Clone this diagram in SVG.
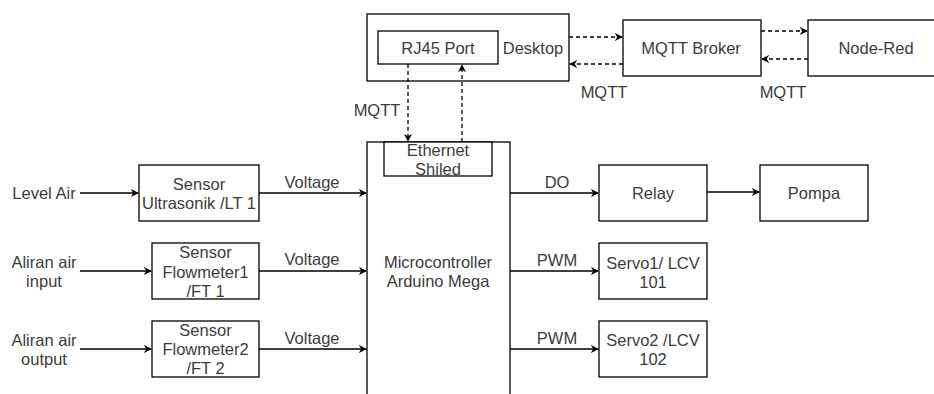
<svg xmlns="http://www.w3.org/2000/svg" width="934" height="394" viewBox="0 0 934 394">
<defs>
<style>
.box{fill:#fff;stroke:#000;stroke-width:1.3}
.ln{fill:none;stroke:#000;stroke-width:1.3}
.dash{stroke-dasharray:4 3}
text{font-family:"Liberation Sans",Arial,sans-serif;font-size:16.5px;fill:#3c3c3c;text-anchor:middle}
</style>
<marker id="ah" viewBox="0 0 10 10" refX="9" refY="5" markerWidth="8" markerHeight="8" markerUnits="userSpaceOnUse" orient="auto">
<path d="M0,0 L10,5 L0,10 L3,5 z" fill="#000"/>
</marker>
</defs>
<rect width="934" height="394" fill="#fff"/>

<g id="desktop">
<rect class="box" x="367" y="14" width="202" height="67"/>
<text x="533" y="54">Desktop</text>
</g>
<g id="rj45">
<rect class="box" x="378" y="31" width="120" height="33"/>
<text x="438" y="54">RJ45 Port</text>
</g>
<g id="broker">
<rect class="box" x="623" y="20" width="138" height="56"/>
<text x="691" y="54">MQTT Broker</text>
</g>
<g id="nodered">
<rect class="box" x="808" y="20" width="140" height="56"/>
<text x="876" y="54">Node-Red</text>
</g>

<g id="micro">
<rect class="box" x="367" y="142" width="143" height="270"/>
<text x="438" y="268">Microcontroller</text>
<text x="438" y="287">Arduino Mega</text>
</g>
<g id="ethernet">
<rect class="box" x="384" y="142" width="108" height="34"/>
<text x="438" y="156">Ethernet</text>
<text x="438" y="175">Shiled</text>
</g>

<g id="in1"><text x="44" y="199">Level Air</text></g>
<g id="in2"><text x="44" y="268">Aliran air</text><text x="44" y="287">input</text></g>
<g id="in3"><text x="44" y="346">Aliran air</text><text x="44" y="365">output</text></g>

<g id="ultrasonik">
<rect class="box" x="139" y="165" width="120" height="56"/>
<text x="199" y="190">Sensor</text>
<text x="199" y="209">Ultrasonik /LT 1</text>
</g>
<g id="flow1">
<rect class="box" x="152" y="243" width="107" height="56"/>
<text x="205.5" y="258">Sensor</text>
<text x="205.5" y="278">Flowmeter1</text>
<text x="205.5" y="297">/FT 1</text>
</g>
<g id="flow2">
<rect class="box" x="152" y="321" width="107" height="56"/>
<text x="205.5" y="336">Sensor</text>
<text x="205.5" y="355">Flowmeter2</text>
<text x="205.5" y="374">/FT 2</text>
</g>

<g id="relay">
<rect class="box" x="599" y="165" width="108" height="56"/>
<text x="653" y="199">Relay</text>
</g>
<g id="pompa">
<rect class="box" x="760" y="165" width="108" height="56"/>
<text x="814" y="199">Pompa</text>
</g>
<g id="servo1">
<rect class="box" x="599" y="243" width="108" height="56"/>
<text x="653" y="269">Servo1/ LCV</text>
<text x="653" y="288">101</text>
</g>
<g id="servo2">
<rect class="box" x="599" y="321" width="108" height="56"/>
<text x="653" y="346">Servo2 /LCV</text>
<text x="653" y="365">102</text>
</g>

<g id="connectors">
<path class="ln dash" d="M569,37 L622,37" marker-end="url(#ah)"/>
<path class="ln dash" d="M623,64 L570,64" marker-end="url(#ah)"/>
<path class="ln dash" d="M761,31 L807,31" marker-end="url(#ah)"/>
<path class="ln dash" d="M808,59 L762,59" marker-end="url(#ah)"/>
<path class="ln dash" d="M408,64 L408,141" marker-end="url(#ah)"/>
<path class="ln dash" d="M462,142 L462,65" marker-end="url(#ah)"/>
<text x="604" y="98">MQTT</text>
<text x="783" y="98">MQTT</text>
<text x="377" y="116">MQTT</text>

<path class="ln" d="M80,193 L138,193" marker-end="url(#ah)"/>
<path class="ln" d="M80,271 L151,271" marker-end="url(#ah)"/>
<path class="ln" d="M80,349 L151,349" marker-end="url(#ah)"/>
<path class="ln" d="M259,193 L366,193" marker-end="url(#ah)"/>
<path class="ln" d="M259,271 L366,271" marker-end="url(#ah)"/>
<path class="ln" d="M259,349 L366,349" marker-end="url(#ah)"/>
<text x="312" y="188">Voltage</text>
<text x="312" y="265">Voltage</text>
<text x="312" y="344">Voltage</text>

<path class="ln" d="M510,193 L598,193" marker-end="url(#ah)"/>
<path class="ln" d="M510,271 L598,271" marker-end="url(#ah)"/>
<path class="ln" d="M510,349 L598,349" marker-end="url(#ah)"/>
<path class="ln" d="M707,192 L759,192" marker-end="url(#ah)"/>
<text x="557" y="188">DO</text>
<text x="557" y="266">PWM</text>
<text x="557" y="344">PWM</text>
</g>
</svg>
